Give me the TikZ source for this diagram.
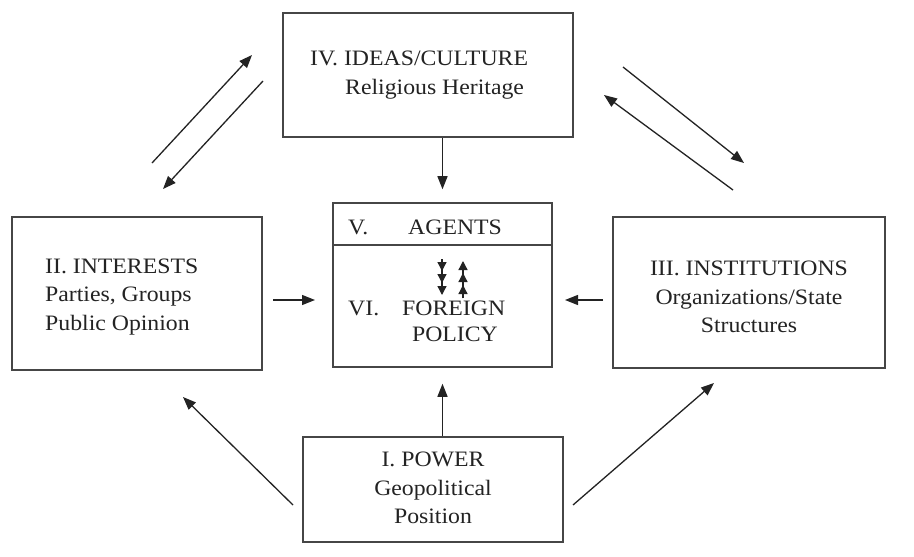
\documentclass[tikz,border=0pt]{standalone}
\usepackage{fontspec}
\setmainfont{Liberation Serif}[FakeStretch=1.08]
\usetikzlibrary{arrows.meta}
\definecolor{ink}{RGB}{35,35,35}
\definecolor{boxline}{RGB}{70,70,70}
\tikzset{
  box/.style={draw=boxline, line width=1.6pt, rectangle, inner sep=0pt},
  txt/.style={font=\fontsize{22}{28.5}\selectfont, text=ink, inner sep=0pt},
  arr/.style={draw=ink, line width=1.3pt, -{Triangle[length=13pt,width=10pt]}},
  small/.style={draw=ink, line width=1.3pt, -{Triangle[length=9pt,width=9pt]}},
}
\begin{document}
\begin{tikzpicture}[x=1pt,y=-1pt]
\useasboundingbox[fill=white] (0,0) rectangle (914,557);
% boxes
\node[box, minimum width=290pt, minimum height=124pt] (iv) at (428,75) {};
\node[box, minimum width=219pt, minimum height=164pt] (cb) at (442.5,285) {};
\node[box, minimum width=250pt, minimum height=153pt] (ii) at (137,293.5) {};
\node[box, minimum width=272pt, minimum height=151pt] (iii) at (749,292.5) {};
\node[box, minimum width=260pt, minimum height=105pt] (pw) at (433,489.5) {};
\draw[draw=boxline, line width=1.6pt] (cb.west |- 0,245) -- (cb.east |- 0,245);
% texts
\node[txt, align=left, anchor=west] (tiv) at (310,75) {IV. IDEAS/CULTURE\\\hspace*{35pt}Religious Heritage};
\node[txt, align=left, anchor=west] (tii) at (45,297) {II. INTERESTS\\Parties, Groups\\Public Opinion};
\node[txt, align=center] (tiii) at (749,297) {III. INSTITUTIONS\\Organizations/State\\Structures};
\node[txt, align=center] (tpw) at (433,488) {I. POWER\\Geopolitical\\Position};
\node[txt, anchor=west] (tv) at (348,227) {V.};
\node[txt, anchor=west] (tag) at (408,227) {AGENTS};
\node[txt, anchor=west] (tvi) at (348,308) {VI.};
\node[txt, anchor=west] (tfo) at (402,308) {FOREIGN};
\node[txt] (tpo) at (455,334) {POLICY};
% inner small arrows
\coordinate (d0) at (442,259);
\coordinate (d1) at (442,271);
\coordinate (d2) at (442,283);
\coordinate (d3) at (442,295);
\coordinate (u0) at (463,298);
\coordinate (u1) at (463,261);
\coordinate (u2) at (463,273);
\coordinate (u3) at (463,285);
\draw[small] (d0) -- (d1);
\draw[small] (d0) -- (d2);
\draw[small] (d0) -- (d3);
\draw[small] (u0) -- (u1);
\draw[small] (u0) -- (u2);
\draw[small] (u0) -- (u3);
% main arrows
\draw[arr, shorten >=13pt] (iv.south -| cb.north) -- (cb.north);
\draw[arr, shorten >=16pt] (pw.north -| cb.south) -- (cb.south);
\coordinate (a2s) at (273,300);
\coordinate (a2e) at (333,300);
\draw[arr, shorten >=18pt] (a2s) -- (a2e);
\coordinate (a3s) at (603,300);
\coordinate (a3e) at (552,300);
\draw[arr, shorten >=13pt] (a3s) -- (a3e);
% diagonal arrows
\coordinate (p1) at (152,163); \coordinate (p2) at (252,55);
\coordinate (p3) at (263,81);  \coordinate (p4) at (163,189);
\coordinate (q1) at (623,67);  \coordinate (q2) at (744,163);
\coordinate (q3) at (733,190); \coordinate (q4) at (604,95);
\coordinate (r1) at (293,505); \coordinate (r2) at (183,397);
\coordinate (s1) at (573,505); \coordinate (s2) at (714,383);
\draw[arr] (p1) -- (p2);
\draw[arr] (p3) -- (p4);
\draw[arr] (q1) -- (q2);
\draw[arr] (q3) -- (q4);
\draw[arr] (r1) -- (r2);
\draw[arr] (s1) -- (s2);
\end{tikzpicture}
\end{document}
